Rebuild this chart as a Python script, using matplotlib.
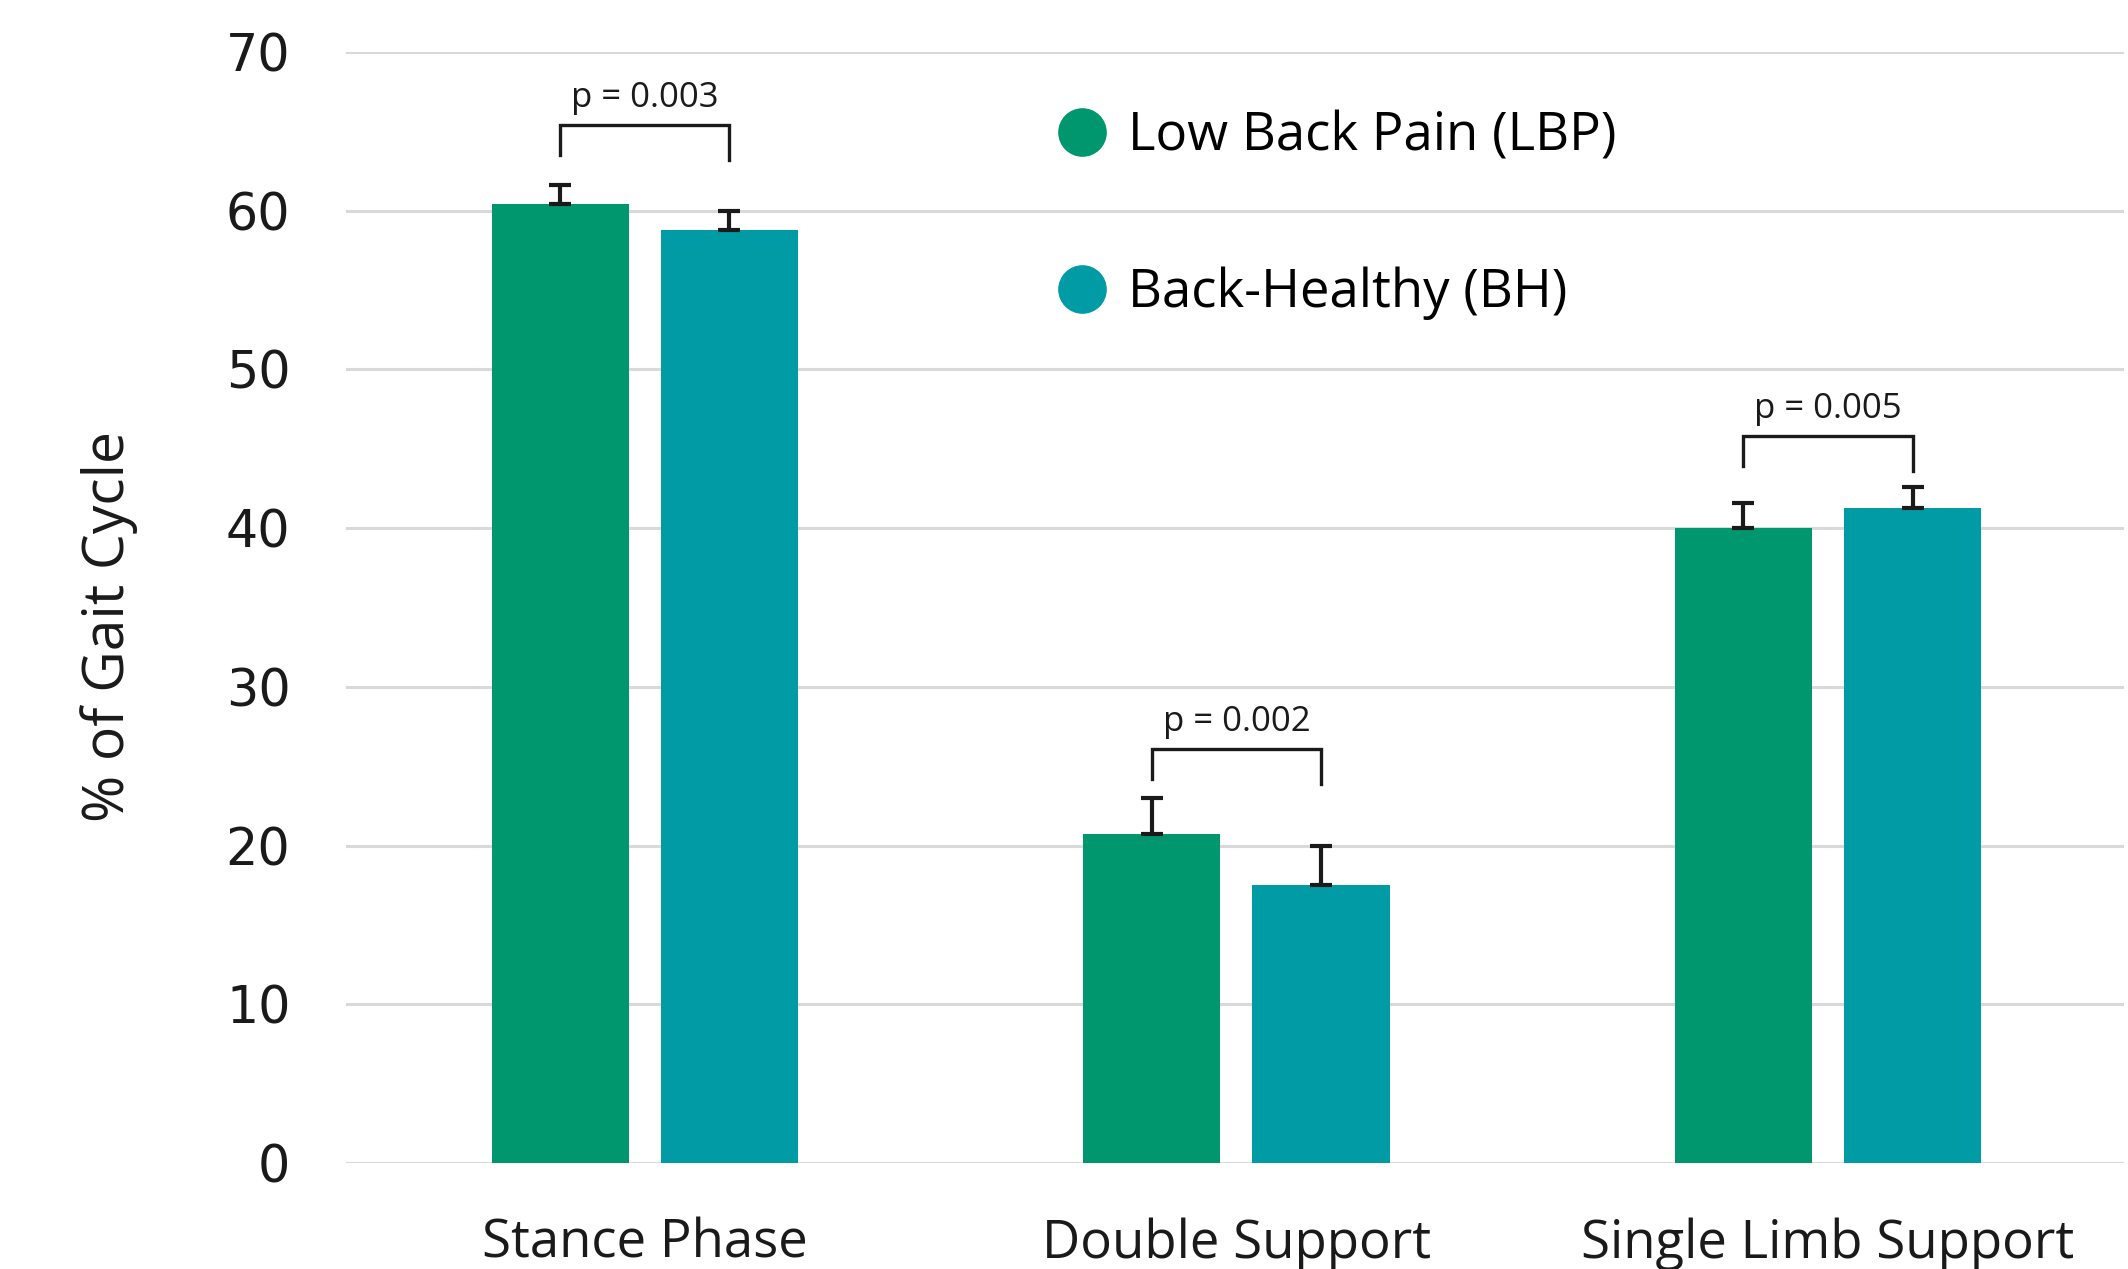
import numpy as np
import matplotlib
matplotlib.use("Agg")
import matplotlib.pyplot as plt
from matplotlib.lines import Line2D

# -----------------------------
# Data
# -----------------------------
categories = ["Stance Phase", "Double Support", "Single Limb Support"]
groups = ["Low Back Pain (LBP)", "Back-Healthy (BH)"]

lbp_mean = [60.4, 20.7, 40.0]
lbp_err = [1.2, 2.3, 1.6]
bh_mean = [58.8, 17.5, 41.3]
bh_err = [1.2, 2.5, 1.3]

p_labels = ["p = 0.003", "p = 0.002", "p = 0.005"]
bracket_top = [65.4, 26.1, 45.8]
bracket_left_end = [63.5, 24.2, 43.9]
bracket_right_end = [63.2, 23.9, 43.6]

yticks = [0, 10, 20, 30, 40, 50, 60, 70]

# -----------------------------
# Style
# -----------------------------
green = "#00966E"
teal = "#009BA5"
grid_color = "#D9D9D9"
ink = "#1A1A1A"
font = "Open Sans"

fig = plt.figure(figsize=(21.28, 12.69), dpi=100)
ax = fig.add_axes([0.1626, 0.0835, 0.8354, 0.8755])

x = np.arange(len(categories))
width = 0.232
offset = 0.143

ax.bar(x - offset, lbp_mean, width, color=green, zorder=2)
ax.bar(x + offset, bh_mean, width, color=teal, zorder=2)

# plus-only error bars with a cap at the bar top
ax.errorbar(x - offset, lbp_mean, yerr=[np.zeros(len(x)), lbp_err],
            fmt="none", ecolor=ink, elinewidth=3, capsize=8, capthick=3, zorder=3)
ax.errorbar(x + offset, bh_mean, yerr=[np.zeros(len(x)), bh_err],
            fmt="none", ecolor=ink, elinewidth=3, capsize=8, capthick=3, zorder=3)

# significance brackets
for i in range(len(categories)):
    xl = x[i] - offset
    xr = x[i] + offset
    ax.plot([xl, xl, xr, xr],
            [bracket_left_end[i], bracket_top[i], bracket_top[i], bracket_right_end[i]],
            color=ink, linewidth=2.4, solid_joinstyle="miter", zorder=3)
    ax.text(x[i], bracket_top[i] + 1.15, p_labels[i], ha="center", va="baseline",
            fontsize=25, family=font, color=ink)

# -----------------------------
# Axes
# -----------------------------
ax.set_xlim(-0.505, 2.5)
ax.set_ylim(0, 70)
ax.set_yticks(yticks)
ax.set_yticklabels([str(v) for v in yticks], fontsize=36.5, family="DejaVu Sans", color=ink)
ax.set_xticks(x)
ax.set_xticklabels(categories, fontsize=38, family=font, color=ink)
ax.tick_params(axis="y", length=0, pad=40)
ax.tick_params(axis="x", length=0, pad=39)

ax.set_ylabel("% of Gait Cycle", fontsize=41, family=font, color=ink, labelpad=63)
ax.yaxis.label.set_y(0.483)

for spine in ax.spines.values():
    spine.set_visible(False)

ax.yaxis.grid(True, color=grid_color, linewidth=2.2, zorder=0)
ax.set_axisbelow(True)

# -----------------------------
# Legend
# -----------------------------
handles = [
    Line2D([], [], linestyle="none", marker="o", markersize=34,
           markerfacecolor=green, markeredgecolor=green),
    Line2D([], [], linestyle="none", marker="o", markersize=34,
           markerfacecolor=teal, markeredgecolor=teal),
]
ax.legend(handles, groups, loc="center left", bbox_to_anchor=(0.40, 0.853),
          frameon=False, borderpad=0, borderaxespad=0, handlelength=0.95,
          handletextpad=0.4, labelspacing=1.95,
          prop={"family": font, "size": 38})

fig.savefig("out.png", dpi=100, facecolor="white")
